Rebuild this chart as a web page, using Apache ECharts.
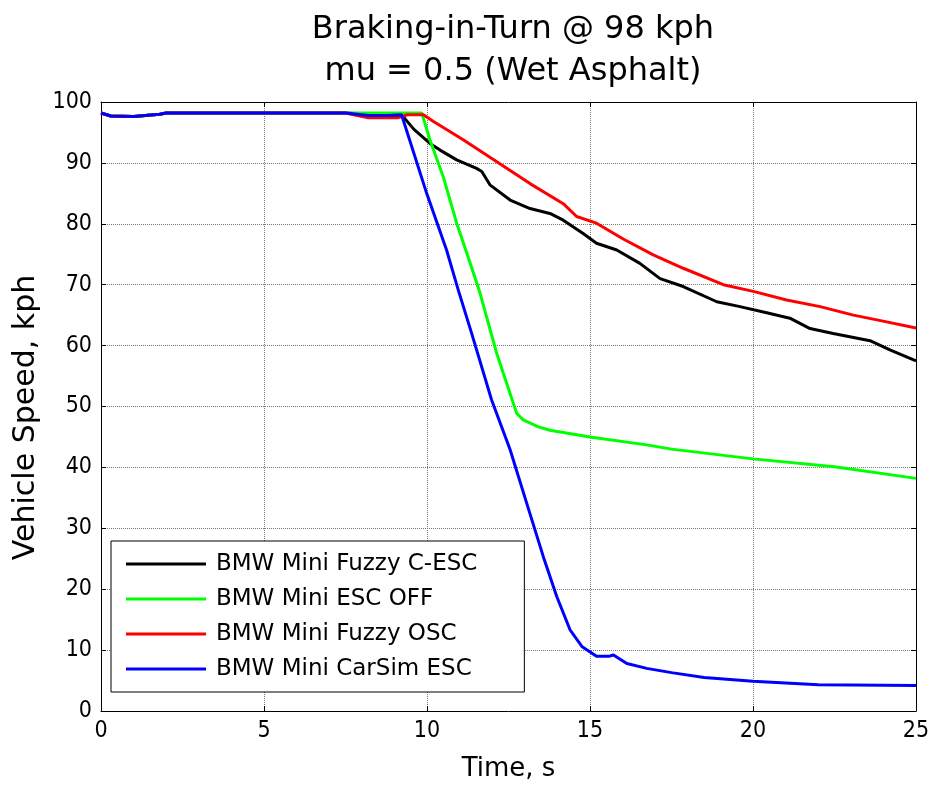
<!DOCTYPE html>
<html><head><meta charset="utf-8">
<script src="https://cdn.jsdelivr.net/npm/echarts@6/dist/echarts.min.js"></script>
<style>html,body{margin:0;padding:0;background:#fff}#c{width:934px;height:785px}</style>
</head><body><div id="c"></div>
<script>
const titleLines = ['Braking-in-Turn @ 98 kph', 'mu = 0.5 (Wet Asphalt)'];
const xTicks = [0, 5, 10, 15, 20, 25];
const yTicks = [0, 10, 20, 30, 40, 50, 60, 70, 80, 90, 100];
const seriesNames = ['BMW Mini Fuzzy C-ESC', 'BMW Mini ESC OFF', 'BMW Mini Fuzzy OSC', 'BMW Mini CarSim ESC'];

const blackT = [0,0.3,1,1.8,2,7.5,8.2,9.0,9.27,9.6,10.09,10.4,10.91,11.52,11.68,11.93,12.55,13.16,13.77,14.18,14.79,15.2,15.82,16.53,17.15,17.86,18.89,19.6,20.42,21.13,21.75,22.46,23.59,24.2,25];
const blackV = [98.2,97.7,97.6,98.0,98.2,98.2,98.0,97.8,97.6,95.5,93.2,92.1,90.5,89.1,88.6,86.4,83.9,82.5,81.7,80.6,78.4,76.8,75.7,73.5,71.0,69.7,67.2,66.4,65.4,64.5,62.8,62.0,60.8,59.3,57.5];

const greenT = [0,0.3,1,1.8,2,7.5,9.84,10.09,10.5,10.91,11.22,11.6,12.14,12.65,12.75,12.95,13.4,13.77,15.0,16.74,17.5,20,22.5,25];
const greenV = [98.2,97.7,97.6,98.0,98.2,98.2,98.2,93.8,87.7,80.1,75.2,69.1,58.7,50.5,48.9,47.8,46.7,46.1,45.0,43.7,43.0,41.4,40.1,38.2];

const redT = [0,0.3,1,1.8,2,7.5,8.2,9.1,9.4,9.89,10.2,11.11,12.14,13.16,14.18,14.59,15.2,16.02,16.94,17.86,19.09,20.01,21.03,22.06,23.08,24.1,25];
const redV = [98.2,97.7,97.6,98.0,98.2,98.2,97.4,97.4,97.9,97.9,96.8,93.8,90.2,86.6,83.3,81.2,80.1,77.5,74.9,72.7,70.0,68.9,67.5,66.4,65.0,63.9,62.9];

const blueT = [0,0.3,1,1.8,2,7.5,8.2,8.8,9.22,9.99,10.6,10.96,11.37,11.98,12.55,13.06,13.57,13.98,14.39,14.75,15.2,15.6,15.72,16.13,16.74,17.5,18.5,20,21,22,25];
const blueV = [98.2,97.7,97.6,98.0,98.2,98.2,97.8,97.8,97.9,85.0,75.7,69.1,62.0,51.1,42.9,34.1,25.3,18.8,13.3,10.6,9.0,9.0,9.2,7.8,7.0,6.3,5.5,4.9,4.6,4.3,4.2];

const pairs = (t, v) => t.map((x, i) => [x, v[i]]);
const seriesData = [pairs(blackT, blackV), pairs(greenT, greenV), pairs(redT, redV), pairs(blueT, blueV)];
const colors = ['#000000', '#00ff00', '#ff0000', '#0000ff'];

const WIDE = '"DejaVu Sans", "Liberation Sans", Arial, sans-serif';
const NARROW = '"Liberation Sans Narrow", "DejaVu Sans Condensed", "Liberation Sans", Arial, sans-serif';
const chart = echarts.init(document.getElementById('c'), null, {renderer: 'canvas'});

const baseX = {
  type: 'value', min: 0, max: 25, interval: 5,
  axisLine: {show: true, onZero: false, lineStyle: {color: '#000', width: 1}},
  axisTick: {show: true, inside: true, length: 5, lineStyle: {color: '#000'}},
  splitLine: {show: false}
};
const baseY = {
  type: 'value', min: 0, max: 100, interval: 10,
  axisLine: {show: true, onZero: false, lineStyle: {color: '#000', width: 1}},
  axisTick: {show: true, inside: true, length: 5, lineStyle: {color: '#000'}},
  splitLine: {show: false}
};

chart.setOption({
  animation: false,
  backgroundColor: '#fff',
  title: {
    text: titleLines.join('\n'),
    left: 508, top: 4, textAlign: 'center',
    textStyle: {fontFamily: WIDE, fontSize: 32, fontWeight: 'normal', color: '#000', lineHeight: 42}
  },
  grid: {left: 101, right: 18, top: 102, bottom: 74, containLabel: false, outerBoundsMode: 'none'},
  legend: {
    orient: 'vertical', left: 111, top: 541,
    data: seriesNames,
    icon: 'rect', itemWidth: 80, itemHeight: 3, itemGap: 11,
    padding: [11, 47, 11, 15],
    backgroundColor: '#fff', borderColor: '#000', borderWidth: 1,
    textStyle: {fontFamily: WIDE, fontSize: 23, color: '#000', lineHeight: 24, padding: [0, 0, 0, 5]}
  },
  xAxis: [
    Object.assign({}, baseX, {
      position: 'bottom',
      name: 'Time, s', nameLocation: 'middle', nameGap: 45,
      nameTextStyle: {fontFamily: WIDE, fontSize: 26, color: '#000'},
      axisLabel: {show: true, fontFamily: NARROW, fontSize: 23, color: '#000', margin: 9,
        formatter: v => xTicks.includes(v) ? String(v) : ''},
      splitLine: {show: true, lineStyle: {color: '#777', type: 'dotted', width: 1}}
    }),
    Object.assign({}, baseX, {position: 'top', axisLabel: {show: false}})
  ],
  yAxis: [
    Object.assign({}, baseY, {
      position: 'left',
      name: 'Vehicle Speed, kph', nameLocation: 'middle', nameGap: 60, nameRotate: 90,
      nameTextStyle: {fontFamily: WIDE, fontSize: 30, color: '#000', padding: [0, 22, 0, 0]},
      axisLabel: {show: true, fontFamily: NARROW, fontSize: 23, color: '#000', margin: 9,
        formatter: v => yTicks.includes(v) ? String(v) : ''},
      splitLine: {show: true, lineStyle: {color: '#777', type: 'dotted', width: 1}}
    }),
    Object.assign({}, baseY, {position: 'right', axisLabel: {show: false}})
  ],
  series: seriesNames.map((n, i) => ({
    name: n, type: 'line', data: seriesData[i],
    xAxisIndex: 0, yAxisIndex: 0,
    showSymbol: false, symbol: 'none',
    lineStyle: {color: colors[i], width: 3},
    itemStyle: {color: colors[i]},
    z: 2 + i
  }))
});
</script></body></html>
